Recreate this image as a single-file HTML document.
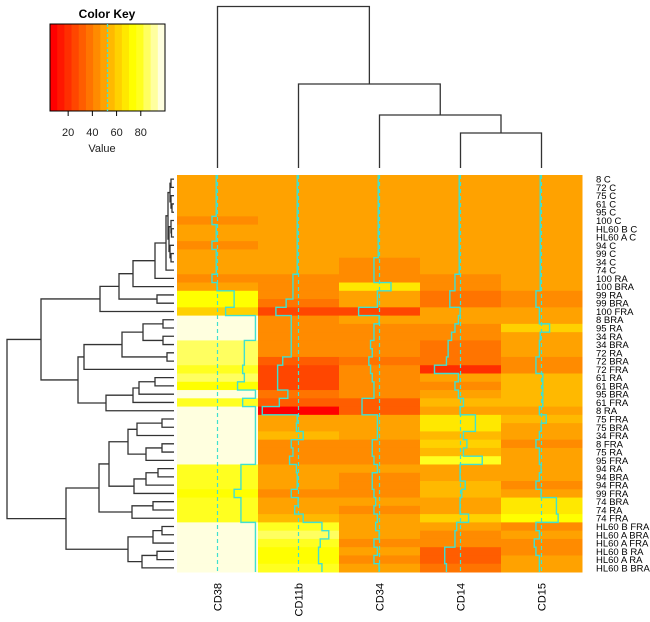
<!DOCTYPE html>
<html><head><meta charset="utf-8">
<style>
html,body{margin:0;padding:0;background:#fff;}
svg{display:block;font-family:"Liberation Sans",Arial,sans-serif;}
</style></head>
<body>
<svg id="chart" width="650" height="622" viewBox="0 0 650 622" xmlns="http://www.w3.org/2000/svg">
<g id="key"></g>
<g id="coldend"></g>
<g id="rowdend"></g>
<g id="cells"></g>
<g id="traces"></g>
<g id="rowlabels"></g>
<g id="collabels"></g>
</svg>
<script>
const columns = ["CD38","CD11b","CD34","CD14","CD15"];
const rows = ["8 C","72 C","75 C","61 C","95 C","100 C","HL60 B C","HL60 A C","94 C","99 C","34 C","74 C","100 RA","100 BRA","99 RA","99 BRA","100 FRA","8 BRA","95 RA","34 RA","34 BRA","72 RA","72 BRA","72 FRA","61 RA","61 BRA","95 BRA","61 FRA","8 RA","75 FRA","75 BRA","34 FRA","8 FRA","75 RA","95 FRA","94 RA","94 BRA","94 FRA","99 FRA","74 BRA","74 RA","74 FRA","HL60 B FRA","HL60 A BRA","HL60 A FRA","HL60 B RA","HL60 A RA","HL60 B BRA"];
const cd38 = [51,51,51,51,51,46,51,51,46,51,51,51,46,52,72,72,62,97,97,97,84,84,84,82,84,76,97,82,97,97,97,97,97,97,97,80,80,80,72,80,80,80,97,97,97,97,97,97];
const cd11b = [51,51,51,51,51,51,51,51,51,51,51,51,46,46,46,38,26,44,44,44,44,44,34,28,28,28,40,30,10,51,50,58,44,46,42,50,51,51,44,52,48,58,80,88,78,76,76,80];
const cd34 = [51,51,51,51,51,51,51,51,51,51,46,46,46,66,50,50,28,52,46,46,42,44,40,42,44,46,46,32,32,50,50,50,44,44,46,50,44,44,46,48,46,50,48,52,46,50,46,52];
const cd14 = [51,51,51,51,51,51,51,51,51,51,51,51,46,46,40,40,52,50,46,42,38,38,36,22,50,46,50,56,52,70,70,56,60,56,78,52,52,58,54,52,52,62,48,46,46,34,34,36];
const cd15 = [51,51,51,51,51,51,51,51,51,51,51,51,51,51,46,46,50,50,62,51,50,50,46,46,54,54,54,54,50,58,52,50,46,50,50,52,50,46,52,70,70,72,46,50,44,46,50,50];
const keyTicks = [20,40,60,80];
const vMin = 5, vMax = 100, vLine = 52.5;
const series = [cd38, cd11b, cd34, cd14, cd15];

const NS="http://www.w3.org/2000/svg";
function mk(tag,attrs,parent){const e=document.createElementNS(NS,tag);for(const k in attrs)e.setAttribute(k,attrs[k]);parent.appendChild(e);return e;}
function heat(k){
  if(k<12){const h=60*k/11;return "hsl("+h+",100%,50%)";}
  const s=[0.875,0.625,0.375,0.125][k-12];const b=Math.round(255*(1-s));return "rgb(255,255,"+b+")";
}
function bin(v){return Math.max(0,Math.min(15,Math.floor((v-vMin)/((vMax-vMin)/16))));}
const L=177,R=582,T=175,B=572;
const cw=(R-L)/columns.length, rh=(B-T)/rows.length;
const xv=(c,v)=>L+c*cw+(v-vMin)/(vMax-vMin)*cw;
const cells=document.getElementById('cells');
series.forEach((s,c)=>{s.forEach((v,r)=>{
  const e=mk('rect',{x:L+c*cw,y:T+r*rh,width:cw+0.5,height:rh+0.5,fill:heat(bin(v))},cells);
  
  
});});
const trg=document.getElementById('traces');
series.forEach((s,c)=>{
  const dx=xv(c,vLine);
  const d=mk('line',{x1:dx,y1:T,x2:dx,y2:B,stroke:'#40E0D0','stroke-width':1.2,'stroke-dasharray':'4,3'},trg);
  
  
  let p='';
  s.forEach((v,r)=>{const x=xv(c,v);p+=(r?'L':'M')+x+' '+(T+r*rh)+'L'+x+' '+(T+(r+1)*rh);});
  const t=mk('path',{d:p,fill:'none',stroke:'#40E0D0','stroke-width':1.4},trg);
  
  
});
const rlg=document.getElementById('rowlabels');
rows.forEach((n,r)=>{
  const t=mk('text',{x:596,y:T+(r+0.5)*rh+3.5,'font-size':9.5,fill:'#000'},rlg);t.textContent=n;
  
  
});
const clg=document.getElementById('collabels');
columns.forEach((n,c)=>{
  const x=L+(c+0.5)*cw+4,y=583;
  const t=mk('text',{x:x,y:y,'font-size':11,'text-anchor':'end',transform:'rotate(-90 '+x+' '+y+')'},clg);t.textContent=n;
  
  
});
const rtree=[7,[41,[100,[119,[133,[155,[166,[168,[170,[171,0,1],[171,2,[172,3,4]]],[169,[171,5,[171.5,6,7]],[170,8,[171,9,10]]]],11],12],13],[157,14,15]],16],[78,[84,[122,[143,[163,17,18],[163,19,20]],[167,21,22]],23],[106,[133,[139,[155,24,25],26],27],28]]],[66,[99,[109,[128,[137,[162,29,30],31],[146,[162,32,33],34]],[134,[146,[158,35,36],37],38]],[132,[153,39,40],41]],[128,[153,[162,42,43],44],[142,[157,45,46],47]]]];
const rdg=document.getElementById('rowdend');
function drawRow(n){
  if(typeof n==='number')return {y:T+(n+0.5)*rh,x:174};
  const a=drawRow(n[1]),b=drawRow(n[2]),x=n[0];
  const p=mk('path',{d:'M'+a.x+' '+a.y+'H'+x+'V'+b.y+'H'+b.x,fill:'none',stroke:'#333','stroke-width':1.3},rdg);
  
  
  return {y:(a.y+b.y)/2,x:x};
}
drawRow(rtree);
const ctree=[6.5,0,[84,1,[115,2,[133,3,4]]]];
const cdg=document.getElementById('coldend');
function drawCol(n){
  if(typeof n==='number')return {x:L+(n+0.5)*cw,y:168};
  const a=drawCol(n[1]),b=drawCol(n[2]),y=n[0];
  const p=mk('path',{d:'M'+a.x+' '+a.y+'V'+y+'H'+b.x+'V'+b.y,fill:'none',stroke:'#333','stroke-width':1.3},cdg);
  
  
  return {x:(a.x+b.x)/2,y:y};
}
drawCol(ctree);
const kg=document.getElementById('key');
const kx0=50,kx1=165,ky0=24,ky1=111;
const kxv=v=>kx0+(v-vMin)/(vMax-vMin)*(kx1-kx0);
for(let k=0;k<16;k++){
  const v0=vMin+k*(vMax-vMin)/16,v1=vMin+(k+1)*(vMax-vMin)/16;
  const r=mk('rect',{x:kxv(v0),y:ky0,width:kxv(v1)-kxv(v0)+0.4,height:ky1-ky0,fill:heat(k)},kg);
  
  
}
const kb=mk('rect',{x:kx0,y:ky0,width:kx1-kx0,height:ky1-ky0,fill:'none',stroke:'#000','stroke-width':1},kg);


const kl=mk('line',{x1:kxv(vLine),y1:ky0,x2:kxv(vLine),y2:ky1,stroke:'#40E0D0','stroke-width':1.3,'stroke-dasharray':'3,2'},kg);


keyTicks.forEach(v=>{
  const l=mk('line',{x1:kxv(v),y1:ky1,x2:kxv(v),y2:ky1+5,stroke:'#000'},kg);
  
  
  const t=mk('text',{x:kxv(v),y:136,'font-size':11,'text-anchor':'middle',fill:'#222'},kg);t.textContent=v;
  
  
});
const ka=mk('text',{x:102,y:152,'font-size':11,'text-anchor':'middle',fill:'#222'},kg);ka.textContent='Value';


const kt=mk('text',{x:107,y:18,'font-size':12,'font-weight':'bold','text-anchor':'middle'},kg);kt.textContent='Color Key';


</script>
</body></html>
